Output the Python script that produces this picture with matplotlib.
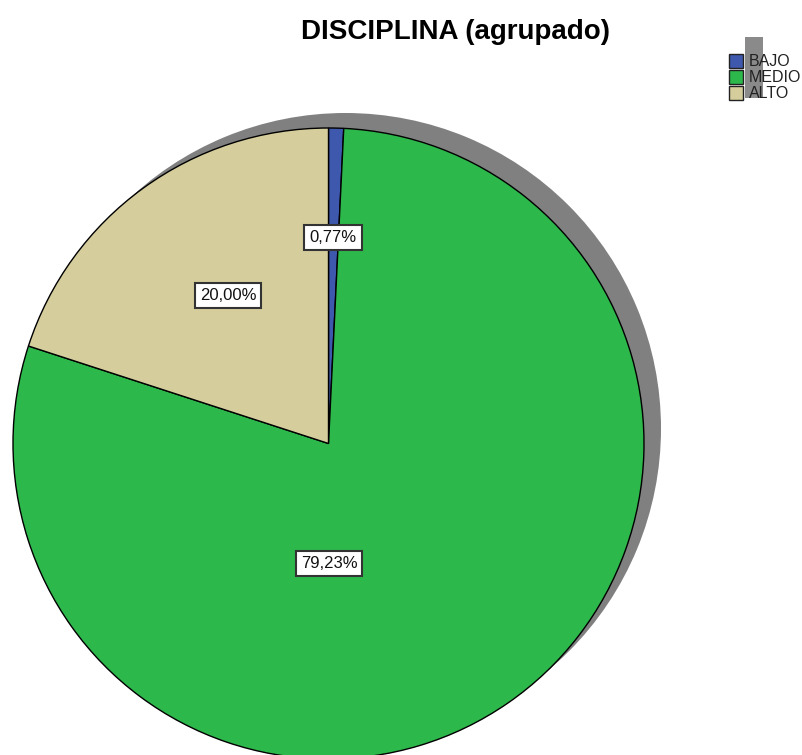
import matplotlib
matplotlib.use('Agg')
import matplotlib.pyplot as plt
from matplotlib.patches import Rectangle

# data
categories = ['BAJO', 'MEDIO', 'ALTO']
percents = [0.77, 79.23, 20.00]
colors = ['#3D58AC', '#2DB84B', '#D5CD9C']

W, H = 803, 755
fig = plt.figure(figsize=(W / 100, H / 100), dpi=100)
ax = fig.add_axes([0, 0, 1, 1])
ax.set_xlim(0, W)
ax.set_ylim(0, H)
ax.set_aspect('equal')
ax.axis('off')

plt.rcParams['font.family'] = ['Liberation Sans', 'DejaVu Sans']

cx, cy, r = 328.5, H - 443.5, 315.5

# shadow of the pie, shifted up and right
ax.pie([sum(percents)], colors=['#808080'], center=(cx + 17, cy + 15), radius=r,
       frame=True, wedgeprops=dict(linewidth=0))

wedges, _ = ax.pie(percents, colors=colors, center=(cx, cy), radius=r,
                   startangle=90, counterclock=False, frame=True,
                   wedgeprops=dict(edgecolor='black', linewidth=1))
ax.set_xlim(0, W)
ax.set_ylim(0, H)
ax.axis('off')

# label positions (pixels from the top-left corner)
label_pos = [(333, 237), (329, 563), (228, 296)]
for p, (lx, ly) in zip(percents, label_pos):
    ax.text(lx, H - ly, f'{p:.2f}%'.replace('.', ','), fontsize=12,
            ha='center', va='center', color='#111111',
            bbox=dict(boxstyle='square,pad=0.3', fc='white', ec='#333333', lw=1.5))

ax.text(456, H - 32, 'DISCIPLINA (agrupado)', fontsize=20, fontweight='bold',
        ha='center', va='center')

# legend with its odd gray shadow block
ax.add_patch(Rectangle((745, H - 98), 18, 61, fc='#8a8a8a', ec='none'))
for i, (name, c) in enumerate(zip(categories, colors)):
    y0 = H - 68 - i * 16
    ax.add_patch(Rectangle((729, y0), 14, 14, fc=c, ec='#222222', lw=1))
    ax.text(749, y0 + 7, name, fontsize=11.5, va='center', ha='left',
            color='#222222')

plt.savefig('out.png', dpi=100)
